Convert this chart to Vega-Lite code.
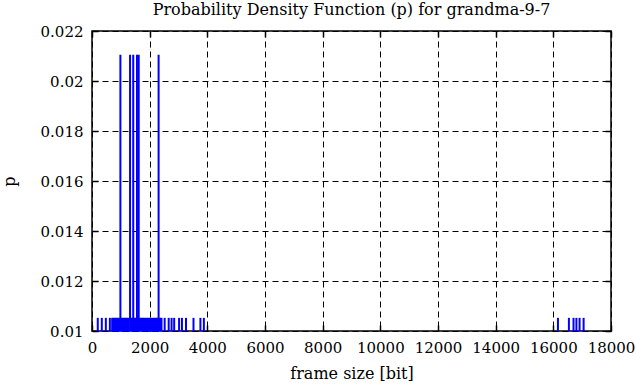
{
  "$schema": "https://vega.github.io/schema/vega-lite/v6.json",
  "autosize": "none",
  "width": 519,
  "height": 300,
  "padding": {"left": 92, "top": 31, "right": 25, "bottom": 56},
  "background": "white",
  "title": {"text": "Probability Density Function (p) for grandma-9-7", "font": "DejaVu Serif", "fontSize": 16, "fontWeight": "normal", "color": "black", "offset": 6},
  "data": {"values": [
    {"x": 200, "p": 0.010526}, {"x": 340, "p": 0.010526}, {"x": 480, "p": 0.010526}, {"x": 620, "p": 0.010526},
    {"x": 700, "p": 0.010526}, {"x": 735, "p": 0.010526}, {"x": 770, "p": 0.010526}, {"x": 805, "p": 0.010526},
    {"x": 840, "p": 0.010526}, {"x": 875, "p": 0.010526}, {"x": 910, "p": 0.010526}, {"x": 950, "p": 0.010526},
    {"x": 985, "p": 0.021053},
    {"x": 1020, "p": 0.010526}, {"x": 1055, "p": 0.010526}, {"x": 1090, "p": 0.010526}, {"x": 1125, "p": 0.010526},
    {"x": 1160, "p": 0.010526}, {"x": 1195, "p": 0.010526}, {"x": 1230, "p": 0.010526}, {"x": 1265, "p": 0.010526},
    {"x": 1320, "p": 0.021053},
    {"x": 1355, "p": 0.010526}, {"x": 1390, "p": 0.010526},
    {"x": 1430, "p": 0.021053},
    {"x": 1465, "p": 0.010526}, {"x": 1500, "p": 0.010526}, {"x": 1530, "p": 0.010526},
    {"x": 1560, "p": 0.021053},
    {"x": 1590, "p": 0.010526},
    {"x": 1620, "p": 0.021053},
    {"x": 1655, "p": 0.010526}, {"x": 1690, "p": 0.010526}, {"x": 1725, "p": 0.010526}, {"x": 1760, "p": 0.010526},
    {"x": 1795, "p": 0.010526}, {"x": 1830, "p": 0.010526}, {"x": 1865, "p": 0.010526}, {"x": 1900, "p": 0.010526},
    {"x": 1935, "p": 0.010526}, {"x": 1970, "p": 0.010526}, {"x": 2005, "p": 0.010526}, {"x": 2040, "p": 0.010526},
    {"x": 2075, "p": 0.010526}, {"x": 2110, "p": 0.010526}, {"x": 2145, "p": 0.010526}, {"x": 2180, "p": 0.010526},
    {"x": 2215, "p": 0.010526}, {"x": 2250, "p": 0.010526}, {"x": 2280, "p": 0.010526},
    {"x": 2310, "p": 0.021053},
    {"x": 2345, "p": 0.010526}, {"x": 2380, "p": 0.010526}, {"x": 2410, "p": 0.010526},
    {"x": 2520, "p": 0.010526}, {"x": 2660, "p": 0.010526}, {"x": 2760, "p": 0.010526}, {"x": 2850, "p": 0.010526},
    {"x": 3020, "p": 0.010526}, {"x": 3120, "p": 0.010526}, {"x": 3260, "p": 0.010526}, {"x": 3520, "p": 0.010526},
    {"x": 3760, "p": 0.010526}, {"x": 3880, "p": 0.010526},
    {"x": 16160, "p": 0.010526}, {"x": 16540, "p": 0.010526}, {"x": 16700, "p": 0.010526}, {"x": 16800, "p": 0.010526},
    {"x": 16910, "p": 0.010526}, {"x": 17050, "p": 0.010526}
  ]},
  "layer": [
    {
      "mark": {"type": "rule", "color": "#0000ff", "strokeWidth": 2, "clip": true},
      "encoding": {
        "x": {"field": "x", "type": "quantitative", "scale": {"domain": [0, 18000], "nice": false, "zero": false},
              "axis": {"values": [0, 2000, 4000, 6000, 8000, 10000, 12000, 14000, 16000, 18000], "format": "d", "title": "frame size [bit]", "orient": "bottom", "labelPadding": 15, "titlePadding": 10,
                       "labelFont": "DejaVu Serif", "labelFontSize": 15, "titleFont": "DejaVu Serif", "titleFontSize": 16}},
        "y": {"field": "p", "type": "quantitative", "scale": {"domain": [0.01, 0.022], "nice": false, "zero": false},
              "axis": {"values": [0.01, 0.012, 0.014, 0.016, 0.018, 0.02, 0.022], "format": ".3~f", "title": "p", "orient": "left", "labelPadding": 15, "titlePadding": 23,
                       "labelFont": "DejaVu Serif", "labelFontSize": 15, "titleFont": "DejaVu Serif", "titleFontSize": 16}},
        "y2": {"datum": 0.01}
      }
    },
    {
      "mark": {"type": "rule", "opacity": 0},
      "encoding": {
        "x": {"field": "x", "type": "quantitative", "axis": {"orient": "top", "values": [0, 2000, 4000, 6000, 8000, 10000, 12000, 14000, 16000, 18000], "labels": false, "grid": false, "title": null}},
        "y": {"field": "p", "type": "quantitative", "axis": {"orient": "right", "values": [0.01, 0.012, 0.014, 0.016, 0.018, 0.02, 0.022], "labels": false, "grid": false, "title": null}}
      }
    }
  ],
  "resolve": {"axis": {"x": "independent", "y": "independent"}},
  "config": {
    "view": {"stroke": "black", "strokeWidth": 1.5},
    "axis": {
      "domain": false,
      "grid": true,
      "gridColor": "black",
      "gridDash": [6, 4],
      "gridOpacity": 1,
      "gridWidth": 1,
      "ticks": true,
      "tickColor": "black",
      "tickSize": -6,
      "tickWidth": 1.5,
      "labelColor": "black",
      "labelFlush": false,
      "labelOverlap": false,
      "titleFontWeight": "normal",
      "titleColor": "black"
    }
  }
}
